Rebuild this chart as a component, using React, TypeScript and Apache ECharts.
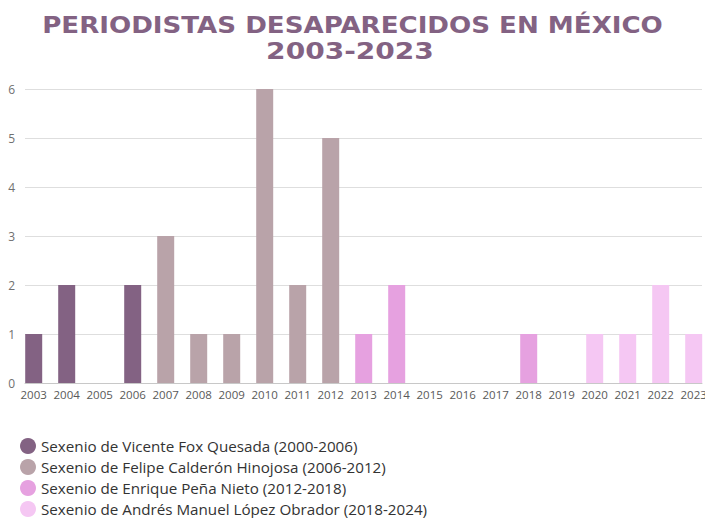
import React, { useEffect, useRef } from "react";
import * as echarts from "echarts";

const titleLine1 = "PERIODISTAS DESAPARECIDOS EN MÉXICO";
const titleLine2 = "2003-2023";

const years = [
  "2003", "2004", "2005", "2006", "2007", "2008", "2009", "2010", "2011", "2012", "2013",
  "2014", "2015", "2016", "2017", "2018", "2019", "2020", "2021", "2022", "2023",
];

const seriesNames = [
  "Sexenio de Vicente Fox Quesada (2000-2006)",
  "Sexenio de Felipe Calderón Hinojosa (2006-2012)",
  "Sexenio de Enrique Peña Nieto (2012-2018)",
  "Sexenio de Andrés Manuel López Obrador (2018-2024)",
];

const seriesColors = ["#836283", "#b9a3a9", "#e6a1e0", "#f5c7f3"];

// values per year (null = outside the sexenio)
const foxValues = [1, 2, 0, 2, null, null, null, null, null, null, null, null, null, null, null, null, null, null, null, null, null];
const calderonValues = [null, null, null, null, 3, 1, 1, 6, 2, 5, null, null, null, null, null, null, null, null, null, null, null];
const penaValues = [null, null, null, null, null, null, null, null, null, null, 1, 2, 0, 0, 0, 1, null, null, null, null, null];
const amloValues = [null, null, null, null, null, null, null, null, null, null, null, null, null, null, null, null, 0, 1, 1, 2, 1];

const yTicks = { min: 0, max: 6, interval: 1 };

export default function App() {
  const ref = useRef<HTMLDivElement>(null);

  useEffect(() => {
    if (!ref.current) return;
    const chart = echarts.init(ref.current, null, { renderer: "svg", width: 705, height: 518 });
    const allValues = [foxValues, calderonValues, penaValues, amloValues];

    chart.setOption({
      animation: false,
      backgroundColor: "#ffffff",
      graphic: [
        {
          type: "text",
          x: 352.5,
          y: 25,
          scaleX: 1.135,
          style: {
            text: titleLine1,
            fontSize: 23,
            fontWeight: "bold",
            fontFamily: "DejaVu Sans",
            fill: "#836283",
            align: "center",
            verticalAlign: "middle",
          },
        },
        {
          type: "text",
          x: 350,
          y: 50.5,
          scaleX: 1.22,
          style: {
            text: titleLine2,
            fontSize: 23,
            fontWeight: "bold",
            fontFamily: "DejaVu Sans",
            fill: "#836283",
            align: "center",
            verticalAlign: "middle",
          },
        },
      ],
      legend: {
        orient: "vertical",
        left: 20,
        top: 438,
        padding: 0,
        itemWidth: 16,
        itemHeight: 16,
        itemGap: 5,
        icon: "circle",
        data: seriesNames,
        textStyle: {
          fontFamily: "Open Sans",
          fontSize: 15.2,
          color: "#333333",
        },
      },
      grid: [
        { left: 33.7, right: 11.3, top: 89, bottom: 135, outerBoundsMode: "none", containLabel: false },
        { left: 25, right: 3, top: 89, bottom: 135, outerBoundsMode: "none", containLabel: false },
      ],
      xAxis: [
        {
          type: "category",
          gridIndex: 0,
          data: years,
          boundaryGap: false,
          axisLine: { show: false },
          axisTick: { show: false },
          splitLine: { show: false },
          axisLabel: {
            interval: 0,
            margin: 5,
            fontFamily: "Open Sans",
            fontSize: 11.5,
            color: "#595959",
          },
        },
        {
          type: "value",
          gridIndex: 1,
          min: 0,
          max: 1,
          axisLine: { show: true, lineStyle: { color: "#c8c8c8", width: 1 } },
          axisTick: { show: false },
          axisLabel: { show: false },
          splitLine: { show: false },
        },
      ],
      yAxis: [
        {
          type: "value",
          gridIndex: 0,
          min: yTicks.min,
          max: yTicks.max,
          interval: yTicks.interval,
          show: false,
        },
        {
          type: "value",
          gridIndex: 1,
          min: yTicks.min,
          max: yTicks.max,
          interval: yTicks.interval,
          axisLine: { show: false },
          axisTick: { show: false },
          axisLabel: {
            margin: 10,
            fontFamily: "Open Sans",
            fontSize: 12,
            color: "#707070",
          },
          splitLine: { show: true, lineStyle: { color: "#dedede", width: 1 } },
        },
      ],
      series: seriesNames.map((name, i) => ({
        name,
        type: "bar",
        xAxisIndex: 0,
        yAxisIndex: 0,
        barWidth: 17,
        barGap: "-100%",
        itemStyle: { color: seriesColors[i] },
        data: allValues[i].map((v) => (v === null ? "-" : v)),
        z: 3,
      })),
    });

    return () => chart.dispose();
  }, []);

  return (
    <div
      ref={ref}
      style={{ position: "fixed", left: 0, top: 0, width: 705, height: 518 }}
    />
  );
}
